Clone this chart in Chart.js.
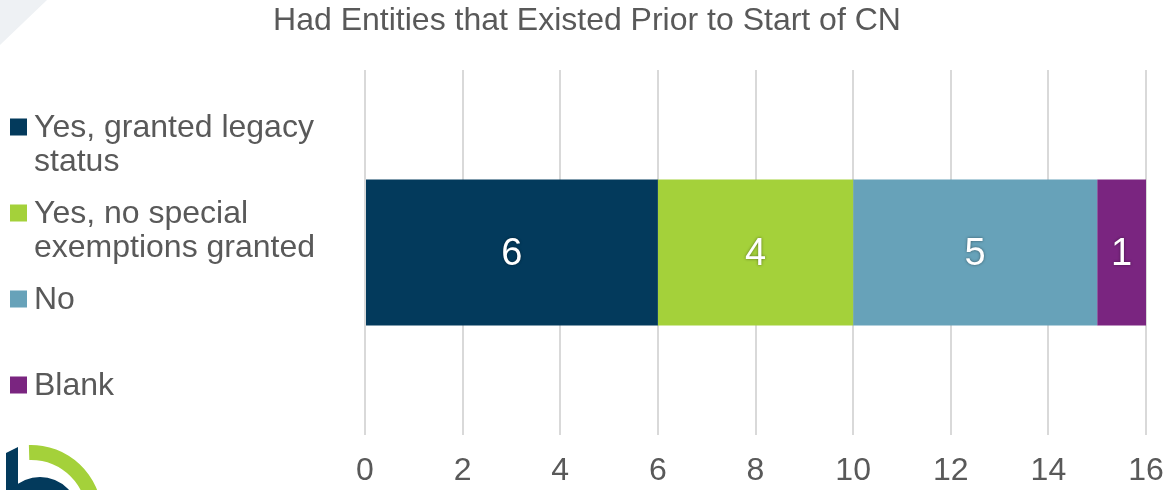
<!DOCTYPE html>
<html>
<head>
<meta charset="utf-8">
<script src="https://cdn.jsdelivr.net/npm/chart.js@4.4.1/dist/chart.umd.min.js"></script>
<style>
  html, body { margin: 0; padding: 0; background: #fff; }
  #wrap { position: relative; width: 1163px; height: 490px; }
</style>
</head>
<body>
<div id="wrap"><canvas id="chart" width="1163" height="490"></canvas></div>
<script>
// chart values
var chartTitle = 'Had Entities that Existed Prior to Start of CN';
var categories = ['Had Entities'];
var seriesNames = [
  ['Yes, granted legacy', 'status'],
  ['Yes, no special', 'exemptions granted'],
  ['No'],
  ['Blank']
];
var seriesValues = [[6], [4], [5], [1]];
var seriesColors = ['#033a5c', '#a4d13a', '#67a2b9', '#7a2580'];
var xTicks = [0, 2, 4, 6, 8, 10, 12, 14, 16];

var textGray = '#595959';
var baseFont = '"Liberation Sans", Arial, sans-serif';

// background bits: faint corner triangle and the logo fragment
var decorPlugin = {
  id: 'decor',
  beforeDraw: function(chart) {
    var ctx = chart.ctx;
    ctx.save();
    ctx.fillStyle = '#eef1f4';
    ctx.beginPath();
    ctx.moveTo(0, 0); ctx.lineTo(47, 0); ctx.lineTo(0, 45); ctx.closePath();
    ctx.fill();

    // green ring quarter
    ctx.fillStyle = '#a4d13a';
    ctx.beginPath();
    ctx.arc(31, 516, 71, -Math.PI / 2 - 0.03, 0.2, false);
    ctx.arc(31, 516, 56, 0.2, -Math.PI / 2 - 0.03, true);
    ctx.closePath();
    ctx.fill();

    // dark "b"
    ctx.fillStyle = '#033a5c';
    ctx.beginPath();
    ctx.moveTo(6, 453); ctx.lineTo(18, 447); ctx.lineTo(18, 490); ctx.lineTo(6, 490);
    ctx.closePath();
    ctx.fill();
    ctx.beginPath();
    ctx.arc(40, 516, 39, Math.PI, 2 * Math.PI, false);
    ctx.arc(40, 516, 25, 2 * Math.PI, Math.PI, true);
    ctx.closePath();
    ctx.fill();

    // title, centred on the whole picture
    ctx.fillStyle = textGray;
    ctx.font = '32px ' + baseFont;
    ctx.textAlign = 'center';
    ctx.textBaseline = 'middle';
    ctx.fillText(chartTitle, 587, 21);
    ctx.restore();
  }
};

// left legend with wrapped labels
var sideLegend = {
  id: 'sideLegend',
  afterDraw: function(chart) {
    var ctx = chart.ctx;
    ctx.save();
    ctx.font = '32px ' + baseFont;
    ctx.textBaseline = 'middle';
    ctx.textAlign = 'left';
    chart.data.datasets.forEach(function(ds, i) {
      var y0 = 127 + i * 86;
      ctx.fillStyle = ds.backgroundColor;
      ctx.fillRect(10, y0 - 8.5, 17, 17);
      ctx.fillStyle = textGray;
      ds.legendLines.forEach(function(line, j) {
        ctx.fillText(line, 34, y0 + 1 + j * 34);
      });
    });
    ctx.restore();
  }
};

// tick labels, placed with the x scale (drawn here so the plot can run to the right edge)
var tickLabels = {
  id: 'tickLabels',
  afterDraw: function(chart) {
    var ctx = chart.ctx;
    var sx = chart.scales.x;
    ctx.save();
    ctx.font = '32px ' + baseFont;
    ctx.fillStyle = textGray;
    ctx.textAlign = 'center';
    ctx.textBaseline = 'middle';
    sx.ticks.forEach(function(t) {
      ctx.fillText(String(t.value), sx.getPixelForValue(t.value), chart.chartArea.bottom + 36);
    });
    ctx.restore();
  }
};

// value labels in the middle of each segment
var valueLabels = {
  id: 'valueLabels',
  afterDatasetsDraw: function(chart) {
    var ctx = chart.ctx;
    ctx.save();
    ctx.font = '38px ' + baseFont;
    ctx.textAlign = 'center';
    ctx.textBaseline = 'middle';
    ctx.fillStyle = '#ffffff';
    ctx.shadowColor = 'rgba(0,0,0,0.45)';
    ctx.shadowBlur = 3;
    chart.data.datasets.forEach(function(ds, i) {
      chart.getDatasetMeta(i).data.forEach(function(bar, k) {
        var p = bar.getProps(['x', 'y', 'base'], true);
        ctx.fillText(String(ds.data[k]), (p.x + p.base) / 2, p.y + 2);
      });
    });
    ctx.restore();
  }
};

var datasets = seriesNames.map(function(lines, i) {
  return {
    label: lines.join(' '),
    legendLines: lines,
    data: seriesValues[i],
    backgroundColor: seriesColors[i],
    borderWidth: 0,
    barPercentage: 0.4,
    categoryPercentage: 1.0
  };
});

new Chart(document.getElementById('chart'), {
  type: 'bar',
  data: { labels: categories, datasets: datasets },
  options: {
    indexAxis: 'y',
    responsive: false,
    animation: false,
    layout: { padding: { left: 365, right: 17, top: 70, bottom: 55 } },
    plugins: {
      legend: { display: false },
      tooltip: { enabled: false },
      title: { display: false }
    },
    scales: {
      x: {
        stacked: true,
        min: xTicks[0],
        max: xTicks[xTicks.length - 1],
        afterBuildTicks: function(axis) {
          axis.ticks = xTicks.map(function(v) { return { value: v }; });
        },
        grid: { color: '#d9d9d9', lineWidth: 2, drawTicks: false },
        border: { display: false },
        ticks: { display: false }
      },
      y: {
        stacked: true,
        display: false
      }
    }
  },
  plugins: [decorPlugin, sideLegend, tickLabels, valueLabels]
});
</script>
</body>
</html>
